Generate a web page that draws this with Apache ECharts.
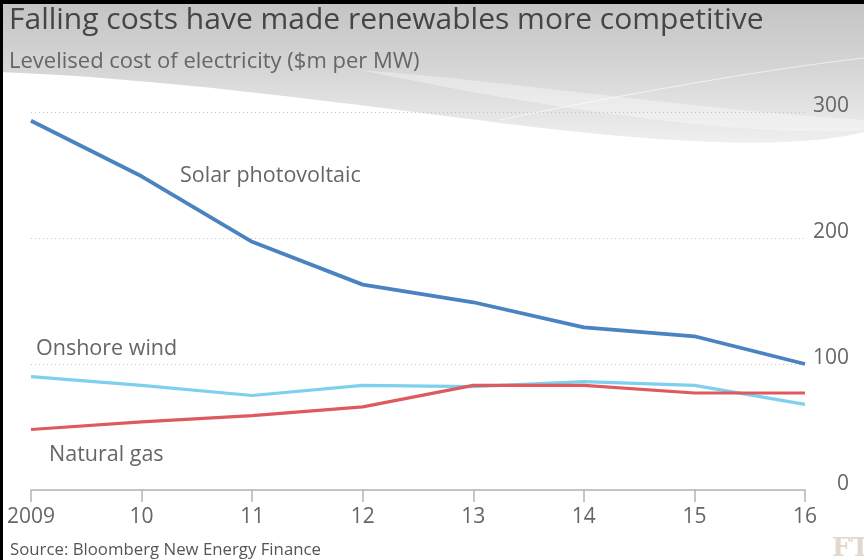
<!DOCTYPE html>
<html>
<head>
<meta charset="utf-8">
<script src="https://cdn.jsdelivr.net/npm/echarts@6/dist/echarts.min.js"></script>
<style>
  html, body { margin: 0; padding: 0; background: #fff; }
  #chart { width: 864px; height: 560px; }
</style>
</head>
<body>
<div id="chart"></div>
<script>
// data
var years = ['2009', '10', '11', '12', '13', '14', '15', '16'];
var solarPV = [293, 249, 197, 163, 149, 129, 122, 100];
var onshoreWind = [90, 83, 75, 83, 82, 86, 83, 68];
var naturalGas = [48, 54, 59, 66, 83, 83, 77, 77];
var yTicks = [0, 100, 200, 300];

var font = '"Open Sans", "DejaVu Sans", sans-serif';

// sample a cubic bezier for the background swoosh
function bez(p0, p1, p2, p3, n) {
    var pts = [];
    for (var i = 0; i <= n; i++) {
        var t = i / n, u = 1 - t;
        pts.push([
            u * u * u * p0[0] + 3 * u * u * t * p1[0] + 3 * u * t * t * p2[0] + t * t * t * p3[0],
            u * u * u * p0[1] + 3 * u * u * t * p1[1] + 3 * u * t * t * p2[1] + t * t * t * p3[1]
        ]);
    }
    return pts;
}
var swoosh = [[0, 0], [864, 0]]
    .concat(bez([864, 132], [800, 148], [700, 145], [560, 130], 20))
    .concat(bez([560, 130], [400, 112], [200, 80], [0, 72], 20));
var band = bez([360, 70], [500, 80], [700, 110], [864, 120], 20)
    .concat(bez([864, 130], [760, 138], [560, 112], [360, 70], 20));

var myChart = echarts.init(document.getElementById('chart'));

var option = {
    backgroundColor: '#fff',
    animation: false,
    textStyle: { fontFamily: font },
    grid: { left: 31, right: 59, top: 112, bottom: 70 },
    graphic: [
        // grey swoosh behind the heading
        {
            type: 'polygon', z: -10, silent: true,
            shape: { points: swoosh },
            style: {
                fill: {
                    type: 'linear', x: 0, y: 0, x2: 0, y2: 1,
                    colorStops: [
                        { offset: 0, color: '#c3c3c3' },
                        { offset: 0.5, color: '#d6d6d6' },
                        { offset: 1, color: '#efefef' }
                    ]
                }
            }
        },
        {
            type: 'polygon', z: -9, silent: true,
            shape: { points: band },
            style: { fill: 'rgba(255,255,255,0.35)' }
        },
        {
            type: 'bezierCurve', z: -9, silent: true,
            shape: { x1: 500, y1: 120, cpx1: 620, cpy1: 95, cpx2: 760, cpy2: 70, x2: 864, y2: 58 },
            style: { fill: null, stroke: 'rgba(255,255,255,0.6)', lineWidth: 1 }
        },
        // frame
        { type: 'rect', z: 10, silent: true, shape: { x: 0, y: 0, width: 864, height: 4 }, style: { fill: '#000' } },
        { type: 'rect', z: 10, silent: true, shape: { x: 0, y: 0, width: 3, height: 560 }, style: { fill: '#000' } },
        // headings
        {
            type: 'text', left: 9, top: 5,
            style: { text: 'Falling costs have made renewables more competitive', fill: '#454545', font: '30px ' + font }
        },
        {
            type: 'text', left: 9, top: 51,
            style: { text: 'Levelised cost of electricity ($m per MW)', fill: '#666', font: '22px ' + font }
        },
        // series labels
        {
            type: 'text', left: 180, top: 165,
            style: { text: 'Solar photovoltaic', fill: '#666', font: '21.5px ' + font }
        },
        {
            type: 'text', left: 36, top: 338,
            style: { text: 'Onshore wind', fill: '#666', font: '21.5px ' + font }
        },
        {
            type: 'text', left: 49, top: 444,
            style: { text: 'Natural gas', fill: '#666', font: '21.5px ' + font }
        },
        // footer
        {
            type: 'text', left: 10, top: 542,
            style: { text: 'Source: Bloomberg New Energy Finance', fill: '#555', font: '16.8px ' + font }
        },
        {
            type: 'text', left: 832, top: 536,
            style: { text: 'FT', fill: '#e2d8ce', font: 'bold 26px "DejaVu Serif", serif' }
        }
    ],
    xAxis: {
        type: 'category',
        data: years,
        boundaryGap: false,
        axisLine: { lineStyle: { color: '#b8b2ad', width: 1.5 } },
        axisTick: { show: true, length: 12, lineStyle: { color: '#b8b2ad', width: 1.5 } },
        axisLabel: { color: '#666', fontSize: 21, margin: 17, fontFamily: font }
    },
    yAxis: {
        type: 'value',
        position: 'right',
        min: yTicks[0],
        max: yTicks[yTicks.length - 1],
        interval: 100,
        axisLine: { show: false },
        axisTick: { show: false },
        axisLabel: {
            color: '#666', fontSize: 21, margin: 44, align: 'right',
            verticalAlign: 'bottom', lineHeight: 12, fontFamily: font
        },
        splitLine: { lineStyle: { color: '#c8c2bd', type: [1, 3], width: 1 } }
    },
    series: [
        {
            name: 'Onshore wind', type: 'line', data: onshoreWind, symbol: 'none',
            lineStyle: { color: '#7dd0ee', width: 3.2 }, z: 3
        },
        {
            name: 'Natural gas', type: 'line', data: naturalGas, symbol: 'none',
            lineStyle: { color: '#df5a5e', width: 3.2 }, z: 4
        },
        {
            name: 'Solar photovoltaic', type: 'line', data: solarPV, symbol: 'none',
            lineStyle: { color: '#4a83c1', width: 3.8 }, z: 5
        }
    ]
};

myChart.setOption(option);
</script>
</body>
</html>
